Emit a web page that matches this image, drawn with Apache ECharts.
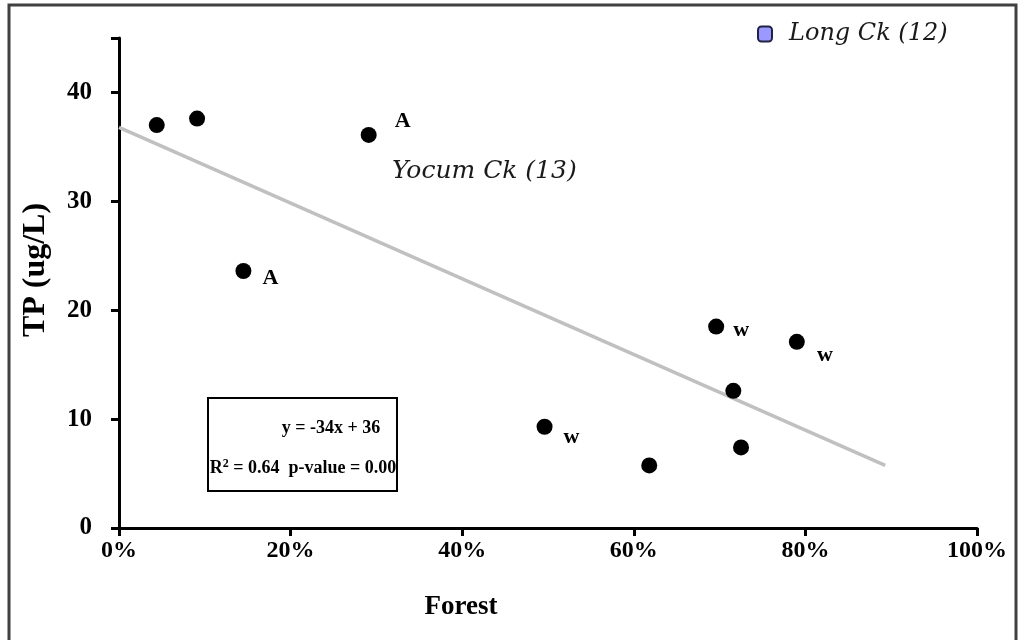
<!DOCTYPE html>
<html><head><meta charset="utf-8">
<script src="https://cdn.jsdelivr.net/npm/echarts@6/dist/echarts.min.js"></script>
<style>html,body{margin:0;padding:0;background:#fff}#c{width:1019px;height:640px}</style>
</head><body><div id="c"></div>
<script>
const forest = [0.044, 0.091, 0.291, 0.145, 0.496, 0.618, 0.696, 0.716, 0.725, 0.790];
const tp     = [37.0, 37.6, 36.1, 23.6, 9.3, 5.75, 18.5, 12.6, 7.4, 17.1];
const pointLabels = ['', '', 'A', 'A', 'w', '', 'w', '', '', 'w'];
const trendX = [0, 0.893];
const trendY = [36.8, 5.75];
const xTicks = [0, 0.2, 0.4, 0.6, 0.8, 1.0];
const yTicks = [0, 10, 20, 30, 40];
const legendName = 'Long Ck (12)';
const noteText = 'Yocum Ck (13)';
const eqLine1 = 'y = -34x + 36';
const eqR2 = '0.64';
const eqP = '0.00';

const labelOffsets = {2: [34, -14], 3: [27, 7], 4: [27, 11], 6: [25, 4], 9: [28, 14]};

const chart = echarts.init(document.getElementById('c'), null, {renderer: 'canvas'});
const serif = 'Liberation Serif';
const italicFont = 'DejaVu Serif';
chart.setOption({
  animation: false,
  backgroundColor: '#fff',
  grid: {left: 119, right: 42, top: 38, bottom: 112, containLabel: false},
  legend: {
    data: [{name: legendName, icon: 'roundRect'}],
    left: 757, top: 22, itemWidth: 14, itemHeight: 15, padding: 0,
    textStyle: {fontFamily: italicFont, fontStyle: 'italic', fontSize: 24, color: '#1a1a1a', padding: [0, 0, 0, 12]}
  },
  xAxis: {
    type: 'value', min: 0, max: 1, interval: 0.2,
    axisLine: {show: true, lineStyle: {color: '#000', width: 3}},
    axisTick: {show: true, length: 8, inside: false, lineStyle: {color: '#000', width: 3}},
    splitLine: {show: false},
    axisLabel: {margin: 11, fontFamily: serif, fontWeight: 'bold', fontSize: 24, color: '#000',
      formatter: v => Math.round(v * 100) + '%'}
  },
  yAxis: {
    type: 'value', min: 0, max: 45, interval: 10,
    axisLine: {show: true, lineStyle: {color: '#000', width: 3}},
    axisTick: {show: true, length: 8, inside: false, lineStyle: {color: '#000', width: 3}},
    splitLine: {show: false},
    axisLabel: {margin: 27, fontFamily: serif, fontWeight: 'bold', fontSize: 25, color: '#000',
      formatter: v => yTicks.includes(v) ? String(v) : ''}
  },
  series: [
    {
      type: 'line', name: 'trend', data: trendX.map((x, i) => [x, trendY[i]]),
      symbol: 'none', lineStyle: {color: '#c0c0c0', width: 3.5}, z: 1, silent: true
    },
    {
      type: 'scatter', name: 'sites', symbol: 'circle', symbolSize: 16,
      itemStyle: {color: '#000', opacity: 1}, z: 3,
      data: forest.map((x, i) => ({
        value: [x, tp[i]],
        label: pointLabels[i] ? {show: true, formatter: pointLabels[i], position: 'inside',
          offset: labelOffsets[i], fontFamily: serif, fontWeight: 'bold', fontSize: 22, color: '#000'} : {show: false}
      }))
    },
    {
      type: 'scatter', name: legendName, data: [], itemStyle: {color: '#9999ff', borderColor: '#222244', borderWidth: 1.5, opacity: 1}
    }
  ],
  graphic: [
    {type: 'rect', shape: {x: 9, y: 5, width: 1007, height: 640}, style: {fill: 'none', stroke: '#404040', lineWidth: 3}, silent: true, z: 100},
    {type: 'text', left: 392, top: 159, style: {text: noteText, fontFamily: italicFont, fontStyle: 'italic', fontSize: 25, fill: '#1a1a1a'}},
    {type: 'rect', shape: {x: 208, y: 398, width: 189, height: 93}, style: {fill: '#fff', stroke: '#000', lineWidth: 2}, z: 10},
    {type: 'text', x: 331, y: 428, z: 11, style: {text: eqLine1, align: 'center', verticalAlign: 'middle', fontFamily: serif, fontWeight: 'bold', fontSize: 18, fill: '#000'}},
    {type: 'text', x: 303, y: 468, z: 11, style: {
      text: '{b|R}{s|2}{b| = ' + eqR2 + '  p-value = ' + eqP + '}', align: 'center', verticalAlign: 'middle',
      rich: {b: {fontFamily: serif, fontWeight: 'bold', fontSize: 18, color: '#000'},
             s: {fontFamily: serif, fontWeight: 'bold', fontSize: 12, color: '#000', verticalAlign: 'top', padding: [0, 0, 9, 0]}}}},
    {type: 'text', x: 461, y: 607, style: {text: 'Forest', align: 'center', verticalAlign: 'middle', fontFamily: serif, fontWeight: 'bold', fontSize: 27, fill: '#000'}},
    {type: 'text', x: 36, y: 270, rotation: Math.PI / 2, style: {text: 'TP (ug/L)', align: 'center', verticalAlign: 'middle', fontFamily: serif, fontWeight: 'bold', fontSize: 32, fill: '#000'}}
  ]
});
</script></body></html>
